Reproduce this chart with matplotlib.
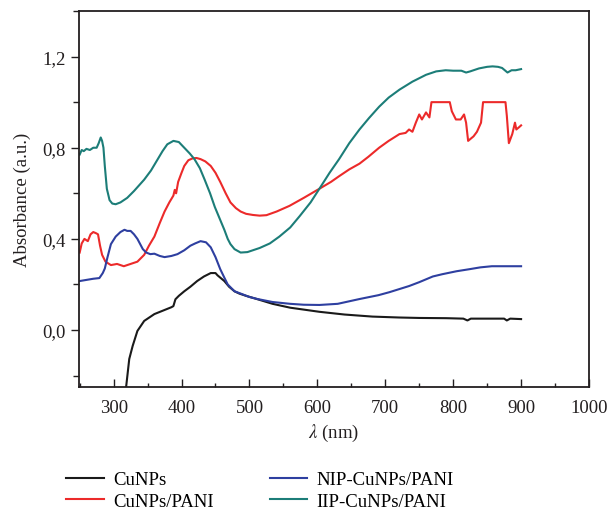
import matplotlib
matplotlib.use("Agg")
import matplotlib.pyplot as plt
from matplotlib.ticker import MultipleLocator

plt.rcParams['font.family'] = ['Liberation Serif', 'DejaVu Serif']
plt.rcParams['mathtext.fontset'] = 'stix'

labels = ["CuNPs", "CuNPs/PANI", "NIP-CuNPs/PANI", "IIP-CuNPs/PANI"]
colors = ["#1a1a1a", "#ec2a2a", "#2e3fa0", "#1c7d78"]

wl_cunps = [316, 318, 323, 328, 335, 345, 360, 375, 385, 388, 391, 396, 404, 413, 423, 433,
            443, 450, 453, 463, 470, 478, 485, 495, 512, 534, 560, 603, 640, 681, 720, 750,
            790, 815, 821, 826, 850, 875, 879, 884, 900]
abs_cunps = [-0.35, -0.26, -0.127, -0.07, -0.004, 0.04, 0.07, 0.088, 0.10, 0.105, 0.135, 0.15,
             0.17, 0.19, 0.215, 0.235, 0.25, 0.25, 0.24, 0.215, 0.19, 0.17, 0.16, 0.15, 0.135,
             0.115, 0.098, 0.08, 0.068, 0.059, 0.055, 0.053, 0.052, 0.05, 0.042, 0.05, 0.05,
             0.05, 0.042, 0.05, 0.048]

wl_pani = [250, 253, 257, 262, 266, 270, 274, 277, 280, 283, 288, 296, 305, 315, 325, 335, 345,
           352, 360, 368, 375, 382, 388, 390, 392, 395, 400, 404, 410, 416, 422, 428, 435, 443,
           450, 457, 465, 472, 480, 487, 495, 505, 515, 525, 540, 559, 580, 603, 620, 632, 647,
           662, 675, 691, 705, 721, 730, 735, 740, 745, 750, 754, 760, 765, 768, 795, 798, 804,
           811, 816, 819, 822, 830, 835, 841, 844, 877, 879, 882, 887, 891, 893, 897, 900]
abs_pani = [0.34, 0.38, 0.40, 0.39, 0.42, 0.43, 0.425, 0.42, 0.37, 0.33, 0.30, 0.285, 0.29, 0.28,
            0.29, 0.30, 0.33, 0.37, 0.41, 0.47, 0.52, 0.56, 0.59, 0.615, 0.60, 0.65, 0.69, 0.72,
            0.745, 0.753, 0.755, 0.75, 0.74, 0.72, 0.69, 0.65, 0.60, 0.56, 0.535, 0.52, 0.51,
            0.505, 0.502, 0.504, 0.52, 0.545, 0.58, 0.62, 0.65, 0.675, 0.705, 0.73, 0.76, 0.80,
            0.83, 0.86, 0.865, 0.88, 0.87, 0.91, 0.946, 0.924, 0.955, 0.933, 1.0, 1.0, 0.96,
            0.924, 0.924, 0.946, 0.91, 0.83, 0.85, 0.87, 0.91, 1.0, 1.0, 0.94, 0.82, 0.86, 0.91,
            0.88, 0.89, 0.898]

wl_nip = [250, 260, 270, 279, 284, 287, 291, 296, 303, 310, 316, 320, 325, 330, 335, 343, 348,
          354, 360, 368, 375, 385, 394, 404, 413, 420, 428, 436, 443, 450, 457, 463, 468, 478,
          487, 500, 512, 534, 560, 580, 603, 630, 662, 690, 706, 735, 750, 770, 784, 805, 824,
          840, 857, 880, 900]
abs_nip = [0.215, 0.22, 0.225, 0.228, 0.25, 0.27, 0.32, 0.377, 0.41, 0.43, 0.44, 0.435, 0.435,
           0.42, 0.40, 0.355, 0.34, 0.333, 0.335, 0.325, 0.32, 0.325, 0.333, 0.35, 0.37, 0.38,
           0.39, 0.385, 0.363, 0.32, 0.267, 0.23, 0.20, 0.17, 0.16, 0.145, 0.136, 0.123, 0.115,
           0.111, 0.11, 0.115, 0.136, 0.153, 0.166, 0.193, 0.21, 0.235, 0.245, 0.258, 0.267,
           0.275, 0.28, 0.28, 0.28]

wl_iip = [250, 253, 256, 260, 265, 270, 275, 278, 281, 283, 285, 287, 290, 294, 298, 303, 310,
          320, 330, 345, 355, 365, 372, 379, 388, 396, 404, 412, 419, 427, 434, 442, 449, 456,
          463, 468, 472, 478, 487, 497, 505, 515, 530, 544, 560, 574, 590, 603, 618, 632, 647,
          662, 676, 691, 705, 721, 740, 760, 775, 789, 800, 812, 819, 825, 838, 850, 858, 866,
          872, 876, 880, 886, 892, 900]
abs_iip = [0.77, 0.79, 0.785, 0.795, 0.79, 0.80, 0.80, 0.82, 0.845, 0.83, 0.80, 0.72, 0.62,
           0.57, 0.555, 0.552, 0.56, 0.58, 0.61, 0.66, 0.70, 0.75, 0.785, 0.815, 0.83, 0.825,
           0.80, 0.775, 0.75, 0.71, 0.66, 0.60, 0.54, 0.49, 0.44, 0.40, 0.377, 0.355, 0.34,
           0.342, 0.35, 0.36, 0.38, 0.41, 0.45, 0.50, 0.56, 0.62, 0.69, 0.75, 0.82, 0.88, 0.93,
           0.98, 1.02, 1.055, 1.09, 1.12, 1.135, 1.14, 1.138, 1.138, 1.13, 1.135, 1.148, 1.155,
           1.157, 1.155, 1.15, 1.14, 1.13, 1.14, 1.14, 1.145]

yticks = [0.0, 0.4, 0.8, 1.2]
ytick_labels = ["0,0", "0,4", "0,8", "1,2"]
xticks = [300, 400, 500, 600, 700, 800, 900, 1000]

fig = plt.figure(figsize=(6.14, 5.10), dpi=100)
ax = fig.add_axes([79/614, 1-388/510, (589-79)/614, (388-12)/510])

series = [(wl_cunps, abs_cunps), (wl_pani, abs_pani), (wl_nip, abs_nip), (wl_iip, abs_iip)]
handles = []
for (x, y), lab, c in zip(series, labels, colors):
    h, = ax.plot(x, y, color=c, lw=1.5, label=lab)
    handles.append(h)

ax.set_xlim(249, 1000)
ax.set_ylim(-0.25, 1.4)
ax.set_xticks(xticks)
ax.set_xticklabels([str(v) for v in xticks])
ax.set_yticks(yticks)
ax.set_yticklabels(ytick_labels)
ax.xaxis.set_minor_locator(MultipleLocator(50))
ax.yaxis.set_minor_locator(MultipleLocator(0.2))

txtc = "#231f20"
ax.tick_params(axis='x', which='major', direction='in', length=5.5, width=1.0,
               labelsize=13.5, colors=txtc, pad=9)
ax.tick_params(axis='x', which='minor', direction='in', length=3, width=1.0, colors=txtc)
ax.tick_params(axis='y', which='major', direction='out', length=5.5, width=1.0,
               labelsize=13.5, colors=txtc, pad=4)
ax.tick_params(axis='y', which='minor', direction='out', length=4, width=1.0, colors=txtc)
for s in ax.spines.values():
    s.set_linewidth(1.3)
    s.set_color(txtc)

ax.set_xlabel(r"$\lambda$ (nm)", fontsize=13.5, color=txtc, labelpad=4)
ax.set_ylabel("Absorbance (a.u.)", fontsize=13.5, color=txtc, labelpad=8)

fig.legend(handles=handles, labels=labels, ncol=2, loc='upper left',
           bbox_to_anchor=(66/614, 1-472/510), frameon=False, fontsize=13.5,
           handlelength=2.0, handletextpad=0.5, columnspacing=3.0, labelspacing=0.25,
           borderpad=0, borderaxespad=0)

fig.savefig("out.png", dpi=100)
